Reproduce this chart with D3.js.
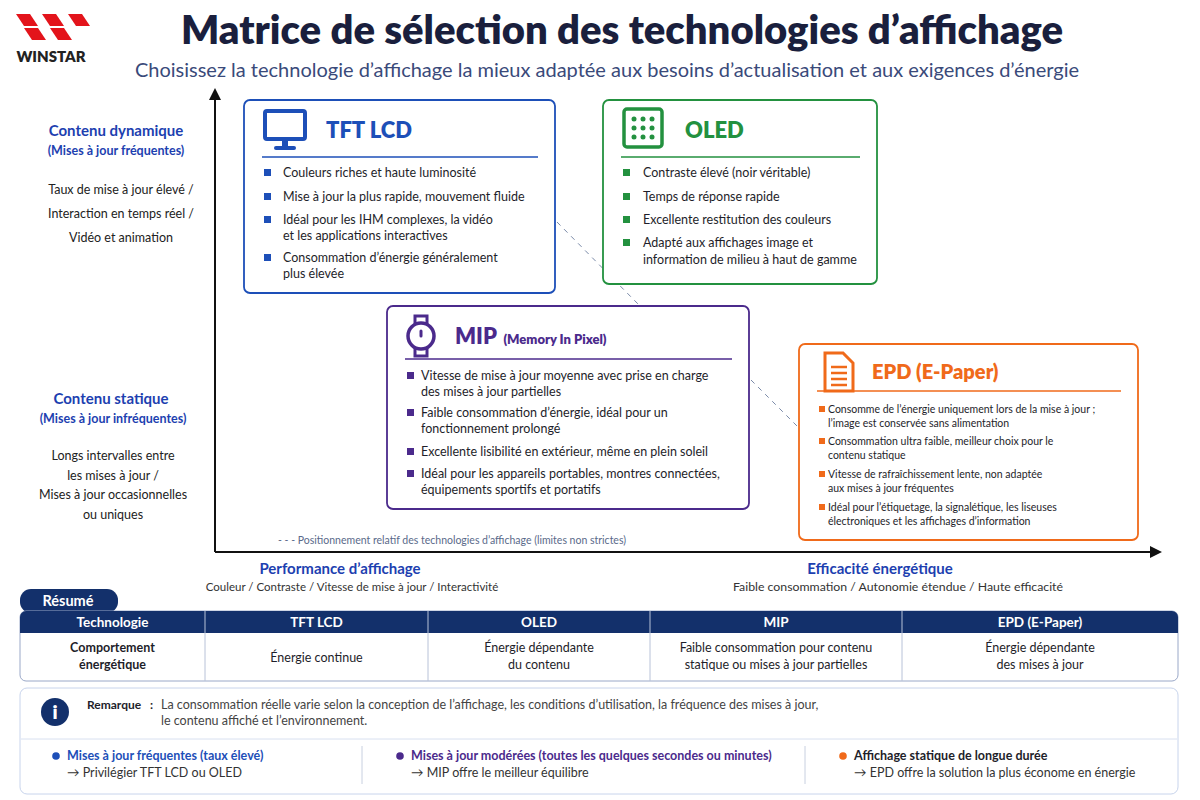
<!DOCTYPE html>
<html><head><meta charset="utf-8">
<script src="https://cdn.jsdelivr.net/npm/d3@7"></script>
<style>body{margin:0;background:#fff}text{font-family:Lato,"Open Sans",sans-serif}</style>
</head><body><svg id="c" width="1200" height="800"></svg>
<script>
// ---- data ----
var techNames = ['TFT LCD', 'OLED', 'MIP', 'EPD (E-Paper)'];
var techColors = ['#1d4fb8', '#23913f', '#4b2a8c', '#f06a1a'];
var techBullets = [
  [['Couleurs riches et haute luminosité'], ['Mise à jour la plus rapide, mouvement fluide'],
   ['Idéal pour les IHM complexes, la vidéo', 'et les applications interactives'],
   ['Consommation d’énergie généralement', 'plus élevée']],
  [['Contraste élevé (noir véritable)'], ['Temps de réponse rapide'], ['Excellente restitution des couleurs'],
   ['Adapté aux affichages image et', 'information de milieu à haut de gamme']],
  [['Vitesse de mise à jour moyenne avec prise en charge', 'des mises à jour partielles'],
   ['Faible consommation d’énergie, idéal pour un', 'fonctionnement prolongé'],
   ['Excellente lisibilité en extérieur, même en plein soleil'],
   ['Idéal pour les appareils portables, montres connectées,', 'équipements sportifs et portatifs']],
  [['Consomme de l’énergie uniquement lors de la mise à jour ;', 'l’image est conservée sans alimentation'],
   ['Consommation ultra faible, meilleur choix pour le', 'contenu statique'],
   ['Vitesse de rafraîchissement lente, non adaptée', 'aux mises à jour fréquentes'],
   ['Idéal pour l’étiquetage, la signalétique, les liseuses', 'électroniques et les affichages d’information']]
];
var tableHeader = ['Technologie', 'TFT LCD', 'OLED', 'MIP', 'EPD (E-Paper)'];
var tableRow = [['Comportement', 'énergétique'], ['Énergie continue'], ['Énergie dépendante', 'du contenu'],
  ['Faible consommation pour contenu', 'statique ou mises à jour partielles'], ['Énergie dépendante', 'des mises à jour']];
var recoTitles = ['Mises à jour fréquentes (taux élevé)', 'Mises à jour modérées (toutes les quelques secondes ou minutes)', 'Affichage statique de longue durée'];
var recoTexts = ['→ Privilégier TFT LCD ou OLED', '→ MIP offre le meilleur équilibre', '→ EPD offre la solution la plus économe en énergie'];
var recoColors = ['#1d4fb8', '#4b2a8c', '#f06a1a'];

// ---- layout ----
var boxes = [
  {x: 244, y: 100, w: 311, h: 193, ts: 22, fs: 12.5, lh: 16, gap: [0, 24, 47, 85], by: 177, div: 57, tx: 39},
  {x: 603, y: 100, w: 274, h: 184, ts: 22, fs: 12.5, lh: 17, gap: [0, 24, 47, 70], by: 177, div: 57, tx: 40},
  {x: 387, y: 306, w: 362, h: 203, ts: 22, fs: 12.5, lh: 16, gap: [0, 37, 76, 98], by: 380, div: 53, tx: 34},
  {x: 799, y: 344, w: 339, h: 196, ts: 20, fs: 10.5, lh: 14, gap: [0, 32, 65, 98], by: 413, div: 47, tx: 29}
];
var svg = d3.select('#c');
var navy = '#13306b';

// header
var logo = svg.append('g').attr('transform', 'translate(16,14)');
[[0,0],[26,0],[52,0],[8,14],[34,14]].forEach(function(p){
  logo.append('path').attr('d', 'M'+p[0]+','+p[1]+'l14,0l8,12l-14,0z').attr('fill', '#e3141b');
});
svg.append('text').attr('x', 51).attr('y', 62).attr('text-anchor', 'middle').attr('font-size', 15).attr('font-weight', 800).attr('fill', '#222').text('WINSTAR');
svg.append('text').attr('x', 622).attr('y', 44).attr('text-anchor', 'middle').attr('font-size', 40).attr('font-weight', 800).attr('fill', '#1a1f3d').text('Matrice de sélection des technologies d’affichage');
svg.append('text').attr('x', 607).attr('y', 77).attr('text-anchor', 'middle').attr('font-size', 20).attr('fill', '#3a4a7a').text('Choisissez la technologie d’affichage la mieux adaptée aux besoins d’actualisation et aux exigences d’énergie');

// axes
var x = d3.scaleLinear().domain([0, 1]).range([215, 1150]);
var y = d3.scaleLinear().domain([0, 1]).range([552, 100]);
svg.append('line').attr('x1', x(0)).attr('y1', y(0)).attr('x2', x(0)).attr('y2', 96).attr('stroke', '#111').attr('stroke-width', 2);
svg.append('path').attr('d', 'M215,88l-6,12h12z').attr('fill', '#111');
svg.append('line').attr('x1', x(0)).attr('y1', y(0)).attr('x2', 1152).attr('y2', y(0)).attr('stroke', '#111').attr('stroke-width', 2);
svg.append('path').attr('d', 'M1162,552l-12,-6v12z').attr('fill', '#111');

function lines(g, arr, x0, y0, lh, attrs) {
  arr.forEach(function(s, i) {
    var t = g.append('text').attr('x', x0).attr('y', y0 + i * lh).text(s);
    for (var k in attrs) t.attr(k, attrs[k]);
  });
}
var blue = '#1d3fb0';
lines(svg, ['Contenu dynamique'], 116, 136, 0, {'text-anchor': 'middle', 'font-size': 15, 'font-weight': 700, fill: blue});
lines(svg, ['(Mises à jour fréquentes)'], 116, 155, 0, {'text-anchor': 'middle', 'font-size': 12.5, 'font-weight': 700, fill: blue});
lines(svg, ['Taux de mise à jour élevé /', 'Interaction en temps réel /', 'Vidéo et animation'], 121, 194, 24, {'text-anchor': 'middle', 'font-size': 12.5, fill: '#222'});
lines(svg, ['Contenu statique'], 111, 404, 0, {'text-anchor': 'middle', 'font-size': 15, 'font-weight': 700, fill: blue});
lines(svg, ['(Mises à jour infréquentes)'], 113, 423, 0, {'text-anchor': 'middle', 'font-size': 12.5, 'font-weight': 700, fill: blue});
lines(svg, ['Longs intervalles entre', 'les mises à jour /', 'Mises à jour occasionnelles', 'ou uniques'], 113, 460, 19.5, {'text-anchor': 'middle', 'font-size': 12.5, fill: '#222'});

lines(svg, ['Performance d’affichage'], 340, 574, 0, {'text-anchor': 'middle', 'font-size': 15, 'font-weight': 700, fill: blue});
lines(svg, ['Couleur / Contraste / Vitesse de mise à jour / Interactivité'], 352, 591, 0, {'text-anchor': 'middle', 'font-size': 11.5, fill: '#333'});
lines(svg, ['Efficacité énergétique'], 880, 574, 0, {'text-anchor': 'middle', 'font-size': 15, 'font-weight': 700, fill: blue});
lines(svg, ['Faible consommation / Autonomie étendue / Haute efficacité'], 898, 591, 0, {'text-anchor': 'middle', 'font-size': 12.3, fill: '#333'});
lines(svg, ['- - -  Positionnement relatif des technologies d’affichage (limites non strictes)'], 278, 544, 0, {'font-size': 10.5, fill: '#5a6a8a'});

// dashed positioning line
svg.append('path').attr('d', 'M557,222L640,306M751,380L799,428').attr('stroke', '#7a8aa8').attr('stroke-dasharray', '5,5').attr('fill', 'none');

// icons
function icon(g, i, c) {
  if (i === 0) {
    g.append('rect').attr('x', 2).attr('y', 2).attr('width', 40).attr('height', 28).attr('rx', 2).attr('fill', 'none').attr('stroke', c).attr('stroke-width', 4);
    g.append('rect').attr('x', 19).attr('y', 31).attr('width', 6).attr('height', 7).attr('fill', c);
    g.append('rect').attr('x', 11).attr('y', 37).attr('width', 22).attr('height', 4).attr('rx', 2).attr('fill', c);
  } else if (i === 1) {
    g.append('rect').attr('x', 2).attr('y', 0).attr('width', 38).attr('height', 38).attr('rx', 3).attr('fill', 'none').attr('stroke', c).attr('stroke-width', 3.5);
    d3.range(9).forEach(function(k) {
      g.append('circle').attr('cx', 12 + (k % 3) * 9).attr('cy', 10 + Math.floor(k / 3) * 9).attr('r', 2.5).attr('fill', c);
    });
  } else if (i === 2) {
    g.append('rect').attr('x', 9).attr('y', 0).attr('width', 12).attr('height', 8).attr('fill', 'none').attr('stroke', c).attr('stroke-width', 3);
    g.append('rect').attr('x', 9).attr('y', 32).attr('width', 12).attr('height', 8).attr('fill', 'none').attr('stroke', c).attr('stroke-width', 3);
    g.append('circle').attr('cx', 15).attr('cy', 20).attr('r', 13).attr('fill', '#fff').attr('stroke', c).attr('stroke-width', 3.5);
    g.append('line').attr('x1', 15).attr('y1', 15).attr('x2', 15).attr('y2', 20).attr('stroke', c).attr('stroke-width', 3).attr('stroke-linecap', 'round');
  } else {
    g.append('path').attr('d', 'M2,0h18l10,10v28h-28z').attr('fill', 'none').attr('stroke', c).attr('stroke-width', 3);
    [14, 20, 26, 32].forEach(function(yy) { g.append('line').attr('x1', 8).attr('x2', 24).attr('y1', yy).attr('y2', yy).attr('stroke', c).attr('stroke-width', 2.5); });
  }
}

// boxes
techNames.forEach(function(name, i) {
  var b = boxes[i], c = techColors[i];
  var g = svg.append('g').attr('transform', 'translate(' + b.x + ',' + b.y + ')');
  g.append('rect').attr('width', b.w).attr('height', b.h).attr('rx', 6).attr('fill', '#fff').attr('stroke', c).attr('stroke-width', 1.8);
  icon(g.append('g').attr('transform', 'translate(' + (i === 2 ? 19 : i === 3 ? 24 : 19) + ',' + (i === 2 ? 10 : 9) + ')'), i, c);
  var tt = g.append('text').attr('x', i === 2 ? 68 : i === 3 ? 73 : 82).attr('y', i === 3 ? 35 : 38).attr('font-size', b.ts).attr('font-weight', 800).attr('fill', c);
  if (i === 2) {
    tt.text('MIP ');
    tt.append('tspan').attr('font-size', 13).attr('dx', 2).text('(Memory In Pixel)');
  } else tt.text(name);
  g.append('line').attr('x1', 18).attr('x2', b.w - 17).attr('y1', b.div).attr('y2', b.div).attr('stroke', c).attr('stroke-width', 1.3);
  techBullets[i].forEach(function(bl, k) {
    var yy = b.by - b.y + b.gap[k];
    var sq = b.fs > 11 ? 7 : 6;
    g.append('rect').attr('x', 20).attr('y', yy - sq - 1).attr('width', sq).attr('height', sq).attr('fill', c);
    lines(g, bl, b.tx, yy, b.lh, {'font-size': b.fs, fill: '#1e1e2a'});
  });
});

// summary
svg.append('rect').attr('x', 20).attr('y', 589).attr('width', 98).attr('height', 24).attr('rx', 11).attr('fill', navy);
svg.append('text').attr('x', 68).attr('y', 606).attr('text-anchor', 'middle').attr('font-size', 14.5).attr('font-weight', 700).attr('fill', '#fff').text('Résumé');
var cols = [20, 205, 428, 650, 902, 1178];
var cx = d3.scaleOrdinal().domain(tableHeader).range(d3.range(5));
svg.append('rect').attr('x', 20).attr('y', 611).attr('width', 1158).attr('height', 70).attr('rx', 6).attr('fill', '#fff').attr('stroke', '#9aa8c8');
svg.append('path').attr('d', 'M20,633V617a6,6 0 0 1 6,-6H1172a6,6 0 0 1 6,6V633z').attr('fill', navy);
tableHeader.forEach(function(h, i) {
  var c = cx(h), mid = (cols[c] + cols[c + 1]) / 2;
  if (c > 0) svg.append('line').attr('x1', cols[c]).attr('x2', cols[c]).attr('y1', 611).attr('y2', 681).attr('stroke', '#b8c2d8');
  svg.append('text').attr('x', mid).attr('y', 627).attr('text-anchor', 'middle').attr('font-size', 13.5).attr('font-weight', 700).attr('fill', '#fff').text(h);
  var r = tableRow[i], y0 = r.length === 1 ? 662 : 652;
  lines(svg, r, mid, y0, 17, {'text-anchor': 'middle', 'font-size': 12.5, 'font-weight': i === 0 ? 700 : 400, fill: '#1e1e2a'});
});

// remarks
svg.append('rect').attr('x', 20).attr('y', 688).attr('width', 1158).attr('height', 106).attr('rx', 7).attr('fill', '#fff').attr('stroke', '#c8d4ec');
svg.append('line').attr('x1', 21).attr('x2', 1177).attr('y1', 739).attr('y2', 739).attr('stroke', '#d8e0f0');
svg.append('circle').attr('cx', 55).attr('cy', 712).attr('r', 14).attr('fill', navy);
svg.append('text').attr('x', 55).attr('y', 719).attr('text-anchor', 'middle').attr('font-size', 19).attr('font-weight', 800).attr('font-family', 'DejaVu Serif').attr('fill', '#fff').text('i');
svg.append('text').attr('x', 87).attr('y', 709).attr('font-size', 12).attr('font-weight', 700).attr('fill', '#1e1e2a').text('Remarque');
svg.append('text').attr('x', 150).attr('y', 709).attr('font-size', 12).attr('font-weight', 700).attr('fill', '#1e1e2a').text(':');
lines(svg, ['La consommation réelle varie selon la conception de l’affichage, les conditions d’utilisation, la fréquence des mises à jour,', 'le contenu affiché et l’environnement.'], 161, 709, 16, {'font-size': 12.5, fill: '#444'});
var rx = [48, 392, 835];
recoTitles.forEach(function(t, i) {
  if (i > 0) svg.append('line').attr('x1', rx[i] - 30).attr('x2', rx[i] - 30).attr('y1', 746).attr('y2', 784).attr('stroke', '#c8d0e0');
  svg.append('circle').attr('cx', rx[i] + 8).attr('cy', 756).attr('r', 3.8).attr('fill', recoColors[i]);
  svg.append('text').attr('x', rx[i] + 19).attr('y', 760).attr('font-size', 12.5).attr('font-weight', 700).attr('fill', i === 2 ? '#1e1e2a' : recoColors[i]).text(t);
  svg.append('text').attr('x', rx[i] + 19).attr('y', 777).attr('font-size', 12.5).attr('fill', '#333').text(recoTexts[i]);
});
</script></body></html>
